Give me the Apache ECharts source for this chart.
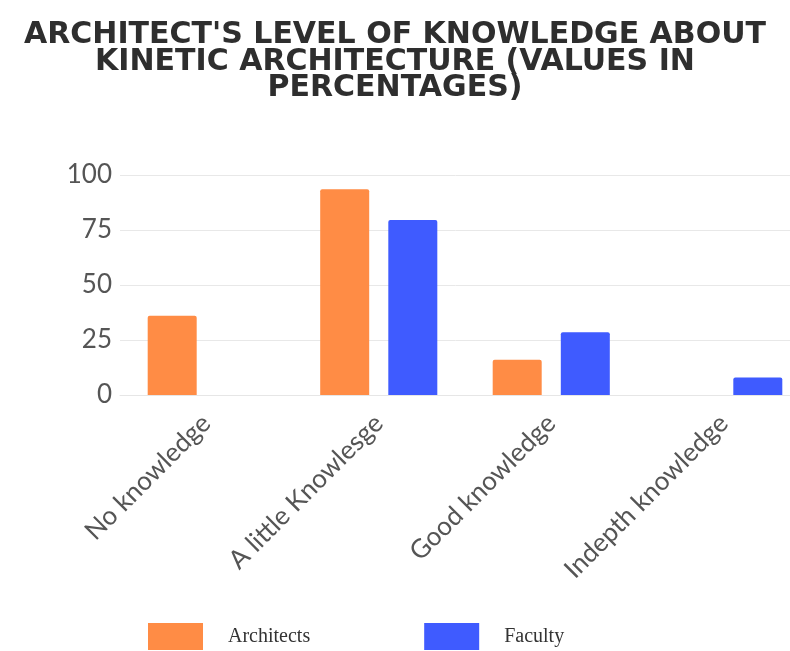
<!DOCTYPE html>
<html>
<head>
<meta charset="utf-8">
<script src="https://cdn.jsdelivr.net/npm/echarts@6/dist/echarts.min.js"></script>
<style>
  html, body { margin: 0; padding: 0; background: #fff; }
  #main { width: 790px; height: 651px; }
</style>
</head>
<body>
<div id="main"></div>
<script>
  // values (percentages)
  var categories = ['No knowledge', 'A little Knowlesge', 'Good knowledge', 'Indepth knowledge'];
  var architects = [36, 93.5, 16, null];
  var faculty = [null, 79.5, 28.5, 8];
  var yTicks = [0, 25, 50, 75, 100];

  var myChart = echarts.init(document.getElementById('main'), null, { renderer: 'canvas' });

  var option = {
    animation: false,
    backgroundColor: '#fff',
    title: {
      text: "ARCHITECT'S LEVEL OF KNOWLEDGE ABOUT\nKINETIC ARCHITECTURE (VALUES IN\nPERCENTAGES)",
      left: 'center',
      top: 17,
      textStyle: {
        fontFamily: 'DejaVu Sans',
        fontWeight: 'bold',
        fontSize: 30,
        lineHeight: 26.5,
        color: '#2e2e2e'
      }
    },
    legend: {
      left: 143,
      top: 618,
      itemWidth: 55,
      itemHeight: 27,
      itemGap: 114,
      icon: 'rect',
      textStyle: {
        fontFamily: 'Liberation Serif',
        fontSize: 20,
        color: '#333',
        padding: [0, 0, 0, 20]
      },
      data: ['Architects', 'Faculty']
    },
    grid: {
      left: 120,
      width: 690,
      top: 175,
      bottom: 256,
      containLabel: false,
      outerBoundsMode: 'none'
    },
    xAxis: {
      type: 'category',
      data: categories,
      axisLine: { show: true, lineStyle: { color: '#e6e6e6', width: 1 } },
      axisTick: { show: false },
      axisLabel: {
        rotate: 45,
        interval: 0,
        margin: 24,
        fontFamily: 'Lato',
        fontSize: 26,
        color: '#555'
      }
    },
    yAxis: {
      type: 'value',
      min: yTicks[0],
      max: yTicks[yTicks.length - 1],
      interval: 25,
      axisLine: { show: false },
      axisTick: { show: false },
      splitLine: { lineStyle: { color: '#e8e8e8', width: 1 } },
      axisLabel: {
        margin: 8,
        fontFamily: 'Lato',
        fontSize: 26,
        color: '#555'
      }
    },
    series: [
      {
        name: 'Architects',
        type: 'bar',
        data: architects,
        barWidth: 49,
        barGap: '39%',
        itemStyle: { color: '#ff8c45', borderRadius: [2, 2, 0, 0] }
      },
      {
        name: 'Faculty',
        type: 'bar',
        data: faculty,
        barWidth: 49,
        itemStyle: { color: '#3f5bff', borderRadius: [2, 2, 0, 0] }
      }
    ]
  };

  myChart.setOption(option);
</script>
</body>
</html>
